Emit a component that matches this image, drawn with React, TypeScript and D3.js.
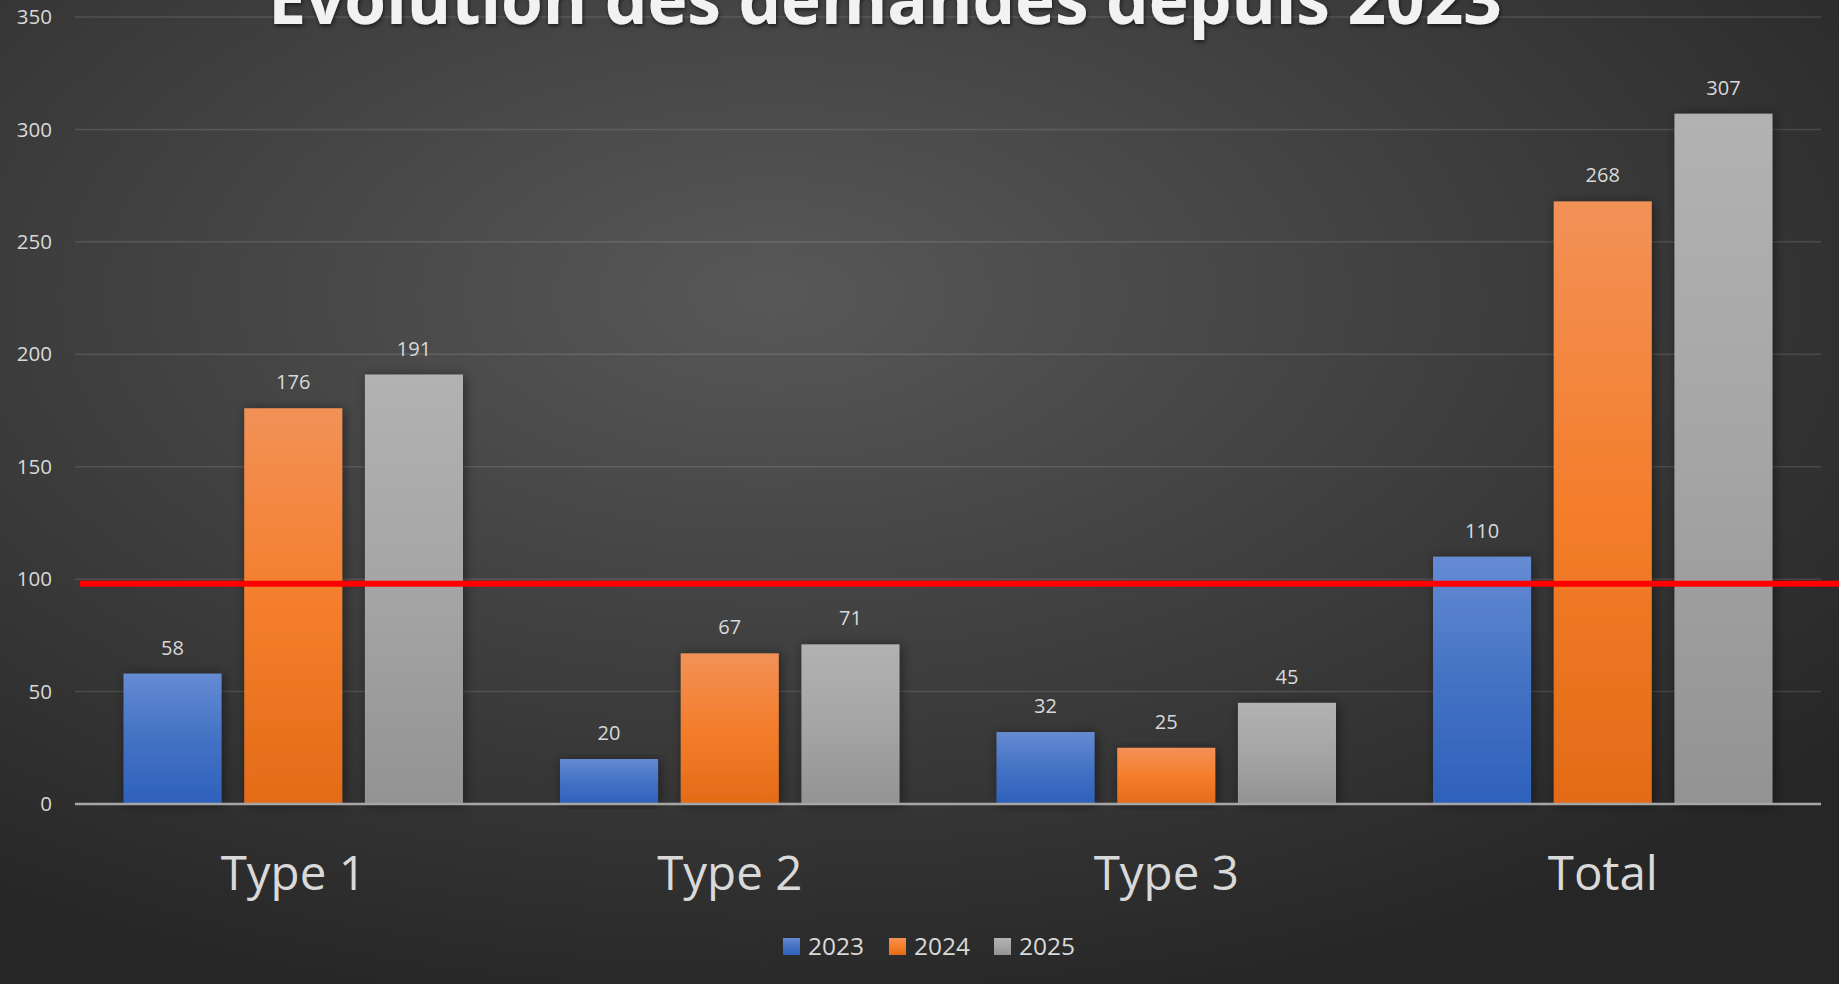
import React from 'react'
import * as d3 from 'd3'

const WIDTH = 1839
const HEIGHT = 984
const MARGIN = { top: 17, right: 18, bottom: 180, left: 75 }

const categories = ['Type 1', 'Type 2', 'Type 3', 'Total']
const seriesNames = ['2023', '2024', '2025']
const values2023 = [58, 20, 32, 110]
const values2024 = [176, 67, 25, 268]
const values2025 = [191, 71, 45, 307]
const yTicks = [0, 50, 100, 150, 200, 250, 300, 350]
const thresholdValue = 98
const title = 'Évolution des demandes depuis 2023'

// gradient stops per series: top, middle, bottom
const seriesColors = [
  ['#658bd3', '#4472c4', '#2e61bb'],
  ['#f29157', '#f47e2c', '#e36b17'],
  ['#b2b2b2', '#a5a5a5', '#939393'],
]

const FONT = '"Open Sans", "Noto Sans", sans-serif'

export default function App() {
  const boundsWidth = WIDTH - MARGIN.left - MARGIN.right
  const boundsHeight = 804 - MARGIN.top

  const xScale = d3.scaleBand().domain(categories).range([0, boundsWidth])
  const xInner = d3
    .scaleBand()
    .domain(seriesNames)
    .range([0, xScale.bandwidth()])
    .paddingInner(0.188)
    .paddingOuter(0.402)
  const yScale = d3.scaleLinear().domain([0, 350]).range([boundsHeight, 0])

  const series = [values2023, values2024, values2025]

  const bars = categories.flatMap((cat, ci) =>
    seriesNames.map((name, si) => {
      const v = series[si][ci]
      const x = xScale(cat)! + xInner(name)!
      const y = yScale(v)
      return (
        <g key={cat + name}>
          <rect
            x={x}
            y={y}
            width={xInner.bandwidth()}
            height={boundsHeight - y}
            fill={`url(#grad${si})`}
            filter="url(#barShadow)"
          />
          <text
            x={x + xInner.bandwidth() / 2}
            y={y - 19}
            textAnchor="middle"
            style={{ fontFamily: FONT, fontSize: '20px', fill: '#d9d9d9' }}
          >
            {v}
          </text>
        </g>
      )
    })
  )

  const legendX = [783, 889, 994]

  return (
    <svg
      width={WIDTH}
      height={HEIGHT}
      style={{ position: 'absolute', left: 0, top: 0, display: 'block' }}
    >
      <defs>
        <radialGradient id="bg" cx="0.42" cy="0.3" r="0.75">
          <stop offset="0%" stopColor="#585858" />
          <stop offset="100%" stopColor="#262626" />
        </radialGradient>
        {seriesColors.map((c, i) => (
          <linearGradient key={i} id={`grad${i}`} x1="0" y1="0" x2="0" y2="1">
            <stop offset="0%" stopColor={c[0]} />
            <stop offset="50%" stopColor={c[1]} />
            <stop offset="100%" stopColor={c[2]} />
          </linearGradient>
        ))}
        <filter id="barShadow" x="-30%" y="-10%" width="160%" height="120%">
          <feDropShadow dx="2" dy="1" stdDeviation="6" floodColor="#000" floodOpacity="0.45" />
        </filter>
        <filter id="titleShadow" x="-5%" y="-50%" width="110%" height="200%">
          <feDropShadow dx="1" dy="2" stdDeviation="2" floodColor="#000" floodOpacity="0.6" />
        </filter>
      </defs>
      <rect width={WIDTH} height={HEIGHT} fill="url(#bg)" />

      <g transform={`translate(${MARGIN.left},${MARGIN.top})`}>
        {yTicks.map((t) => (
          <g key={t}>
            {t > 0 && (
              <line
                x1={0}
                x2={boundsWidth}
                y1={yScale(t)}
                y2={yScale(t)}
                stroke="rgba(255,255,255,0.12)"
                strokeWidth={1.5}
              />
            )}
            <text
              x={-23}
              y={yScale(t)}
              dy="0.35em"
              textAnchor="end"
              style={{ fontFamily: FONT, fontSize: '20.5px', fill: '#d9d9d9' }}
            >
              {t}
            </text>
          </g>
        ))}

        {bars}

        <line
          x1={0}
          x2={boundsWidth}
          y1={boundsHeight}
          y2={boundsHeight}
          stroke="#a6a6a6"
          strokeWidth={2.5}
        />

        {categories.map((cat) => (
          <text
            key={cat}
            x={xScale(cat)! + xScale.bandwidth() / 2}
            y={890 - MARGIN.top}
            textAnchor="middle"
            style={{ fontFamily: FONT, fontSize: '47.5px', fill: '#d9d9d9' }}
          >
            {cat}
          </text>
        ))}

        <line
          x1={5}
          x2={WIDTH - MARGIN.left}
          y1={yScale(thresholdValue)}
          y2={yScale(thresholdValue)}
          stroke="#ff0000"
          strokeWidth={6}
        />
      </g>

      <text
        x={885}
        y={24}
        textAnchor="middle"
        filter="url(#titleShadow)"
        style={{ fontFamily: FONT, fontSize: '67.5px', fontWeight: 700, fill: '#f2f2f2' }}
      >
        {title}
      </text>

      {seriesNames.map((name, i) => (
        <g key={name} transform={`translate(${legendX[i]},938)`}>
          <rect width={17} height={17} fill={`url(#grad${i})`} />
          <text
            x={25}
            y={17}
            style={{ fontFamily: FONT, fontSize: '24.5px', fill: '#d9d9d9' }}
          >
            {name}
          </text>
        </g>
      ))}
    </svg>
  )
}
